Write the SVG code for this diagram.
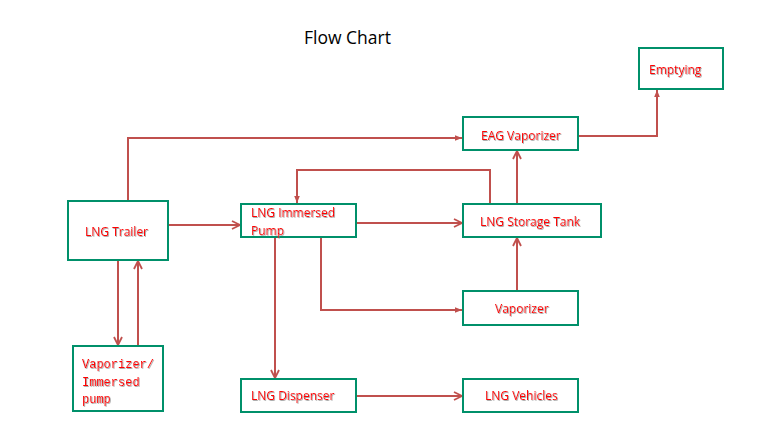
<svg xmlns="http://www.w3.org/2000/svg" width="765" height="444" viewBox="0 0 765 444">
<style>
.box{fill:#fff;stroke:#00906A;stroke-width:2}
.lbl{font-family:"Open Sans","Liberation Sans",sans-serif;font-size:12px;fill:#FF0000;filter:url(#sh)}
.mono{font-family:"Liberation Mono",monospace;font-size:12px;fill:#FF0000;filter:url(#sh)}
.ln{fill:none;stroke:#C0504D;stroke-width:2}
.v{marker-end:url(#open)}
.t{marker-end:url(#tri)}
</style>
<defs>
<filter id="sh" x="-10%" y="-30%" width="120%" height="160%">
<feDropShadow dx="0.8" dy="0.8" stdDeviation="0.3" flood-color="#808080" flood-opacity="0.8"/>
</filter>
<marker id="open" viewBox="0 0 10 10" refX="9" refY="5" markerWidth="10" markerHeight="10" markerUnits="userSpaceOnUse" orient="auto">
<path d="M1,1 L9,5 L1,9" fill="none" stroke="#C0504D" stroke-width="1.8"/>
</marker>
<marker id="tri" viewBox="0 0 10 10" refX="10" refY="5" markerWidth="9" markerHeight="7" markerUnits="userSpaceOnUse" orient="auto">
<path d="M0,1 L10,5 L0,9 Z" fill="#C0504D"/>
</marker>
</defs>
<rect width="765" height="444" fill="#fff"/>
<text x="304" y="44" font-family="'Open Sans','Liberation Sans',sans-serif" font-size="17.5" fill="#000">Flow Chart</text>
<g id="connectors">
<path class="ln t" d="M128,201 V138 H462"/>
<path class="ln t" d="M578,136 H657 V90"/>
<path class="ln v" d="M517,204 V151"/>
<path class="ln t" d="M490,204 V170 H297 V203"/>
<path class="ln v" d="M168,225 H240"/>
<path class="ln v" d="M356,223 H462"/>
<path class="ln t" d="M321,237 V310 H462"/>
<path class="ln v" d="M517,291 V238"/>
<path class="ln v" d="M275,237 V378"/>
<path class="ln v" d="M356,396 H462"/>
<path class="ln v" d="M118,260 V345"/>
<path class="ln v" d="M138,346 V261"/>
</g>
<g id="emptying"><rect class="box" x="639" y="48" width="84" height="41"/><text class="lbl" x="649" y="74">Emptying</text></g>
<g id="eag-vaporizer"><rect class="box" x="463" y="117" width="115" height="33"/><text class="lbl" x="481" y="140">EAG Vaporizer</text></g>
<g id="lng-storage-tank"><rect class="box" x="463" y="204" width="138" height="33"/><text class="lbl" x="480" y="226">LNG Storage Tank</text></g>
<g id="lng-trailer"><rect class="box" x="68" y="201" width="100" height="59"/><text class="lbl" x="85" y="236">LNG Trailer</text></g>
<g id="lng-immersed-pump"><rect class="box" x="241" y="204" width="115" height="33"/><text class="lbl" x="251" y="217">LNG Immersed<tspan x="251" y="235">Pump</tspan></text></g>
<g id="vaporizer"><rect class="box" x="463" y="291" width="115" height="34"/><text class="lbl" x="495" y="313">Vaporizer</text></g>
<g id="vaporizer-immersed-pump"><rect class="box" x="73" y="346" width="90" height="65"/><text class="mono" x="82" y="368">Vaporizer/<tspan x="82" y="386">Immersed</tspan><tspan x="82" y="403">pump</tspan></text></g>
<g id="lng-dispenser"><rect class="box" x="241" y="379" width="115" height="33"/><text class="lbl" x="251" y="400">LNG Dispenser</text></g>
<g id="lng-vehicles"><rect class="box" x="463" y="379" width="115" height="33"/><text class="lbl" x="485" y="400">LNG Vehicles</text></g>
</svg>
